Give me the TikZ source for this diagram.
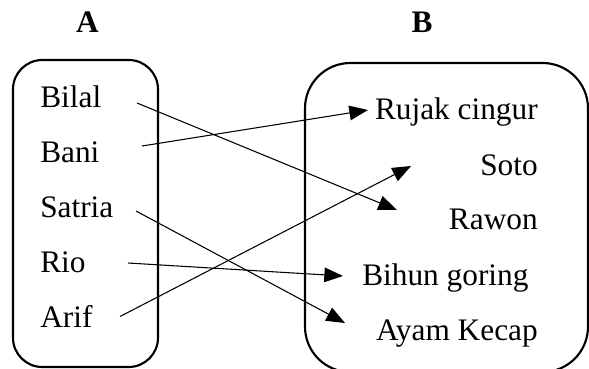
\documentclass[tikz,border=0pt]{standalone}
\usepackage{fontspec}
\setmainfont{Liberation Serif}
\usetikzlibrary{arrows.meta}
\begin{document}
\begin{tikzpicture}[x=0.75pt,y=-0.75pt,
  item/.style={inner sep=0pt,font=\fontsize{23.5}{28}\selectfont},
  head/.style={inner sep=0pt,font=\fontsize{23.5}{28}\selectfont\bfseries,anchor=base},
  setbox/.style={draw,line width=1.6pt},
  link/.style={line width=0.8pt,-{Triangle[length=14pt,width=11pt]}}]
\useasboundingbox (0,0) rectangle (589,368);
\clip (0,0) rectangle (589,368);
% set boxes
\draw[setbox,rounded corners=22] (13,60) rectangle (158,367);
\draw[setbox,rounded corners=34] (305,63) rectangle (588,372);
% headings
\node[head] (hA) at (87.5,32) {A};
\node[head] (hB) at (422,32) {B};
% domain
\node[item,anchor=base west] (bilal) at (40,107) {Bilal};
\node[item,anchor=base west] (bani) at (40,162) {Bani};
\node[item,anchor=base west] (satria) at (40,217) {Satria};
\node[item,anchor=base west] (rio) at (40,272) {Rio};
\node[item,anchor=base west] (arif) at (40,327) {Arif};
% codomain
\node[item,anchor=base east] (rujak) at (538,119) {Rujak cingur};
\node[item,anchor=base east] (soto) at (538,175) {Soto};
\node[item,anchor=base east] (rawon) at (538,229.5) {Rawon};
\node[item,anchor=base west] (bihun) at (362,285) {Bihun goring};
\node[item,anchor=base east] (ayam) at (538,340) {Ayam Kecap};
% connector ends
\coordinate (bilalout) at (137,103);
\coordinate (baniout) at (142,146);
\coordinate (satriaout) at (136,211);
\coordinate (rioout) at (128,263);
\coordinate (arifout) at (120,316.5);
\coordinate (rujakin) at (368,110);
\coordinate (sotoin) at (411,166);
\coordinate (rawonin) at (397,210);
\coordinate (bihunin) at (343,276);
\coordinate (ayamin) at (345,323);
% mapping
\draw[link] (bilalout) -- (rawonin);
\draw[link] (baniout) -- (rujakin);
\draw[link] (satriaout) -- (ayamin);
\draw[link] (rioout) -- (bihunin);
\draw[link] (arifout) -- (sotoin);
\end{tikzpicture}
\end{document}
